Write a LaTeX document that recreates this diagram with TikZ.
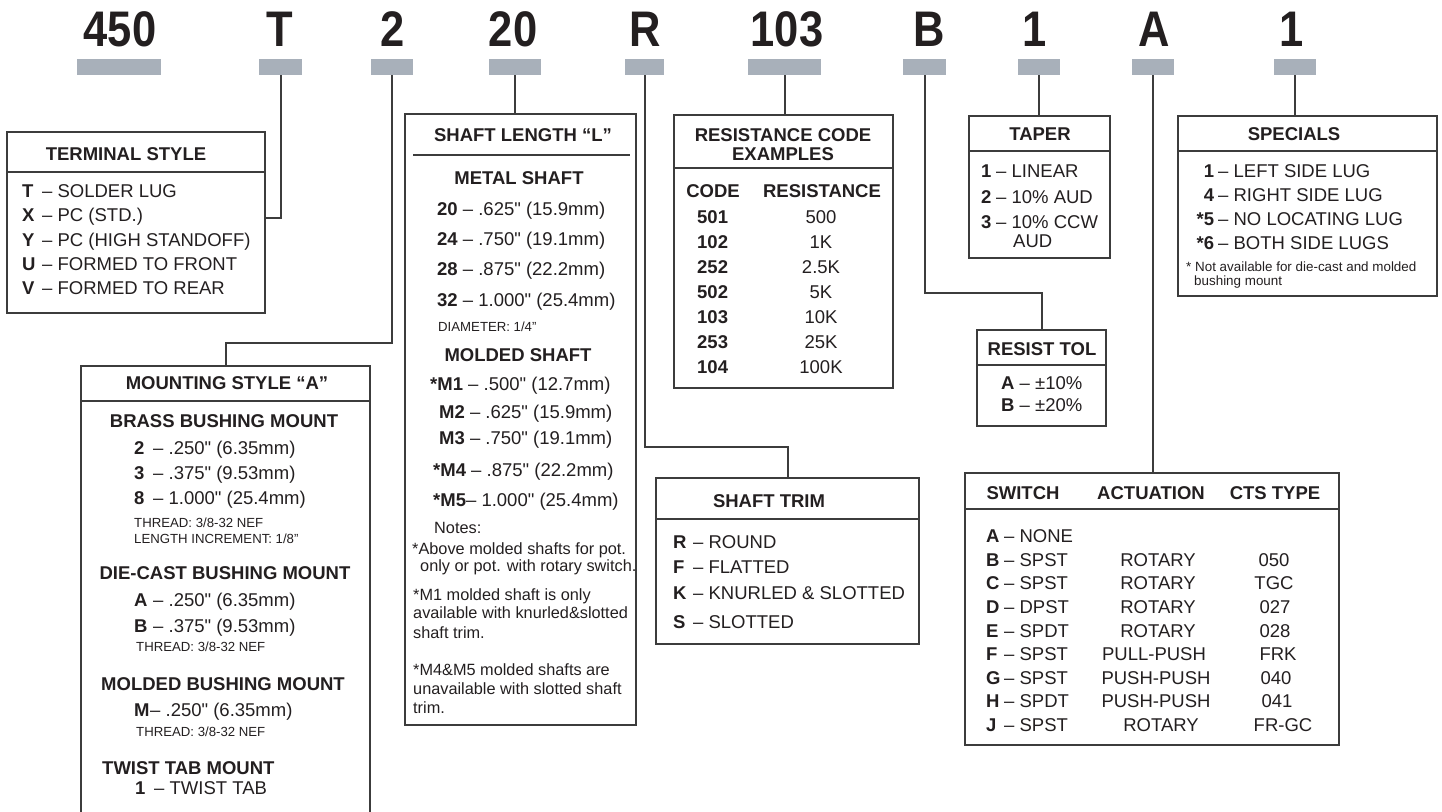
\documentclass[tikz,border=0pt]{standalone}
\usepackage{fontspec}
\newfontfamily\arial{Liberation Sans}
\newfontfamily\codefont{Liberation Sans}[FakeStretch=0.87]
\definecolor{ink}{HTML}{231F20}
\definecolor{rule}{HTML}{3C3C3C}
\definecolor{slot}{HTML}{A8B0BA}
\newcommand\itemfont{\arial\fontsize{18.5}{22}\selectfont}
\newcommand\headfont{\arial\bfseries\fontsize{18.5}{22}\selectfont}
\newcommand\smallfont{\arial\fontsize{13.2}{16}\selectfont}
\newcommand\notefont{\arial\fontsize{16.3}{19}\selectfont}
\newcommand\tinyfont{\arial\fontsize{13.4}{16}\selectfont}
\newcommand\keybox[2][19pt]{\makebox[#1][l]{\textbf{#2}}}

\begin{document}
\begin{tikzpicture}[x=1pt, y=1pt,
        slotbar/.style={fill=slot, inner sep=0, minimum height=16pt},
        codetext/.style={font=\codefont\bfseries\fontsize{50}{50}\selectfont, text=ink, inner sep=0, anchor=base},
        box/.style={draw=rule, line width=2.2pt, inner sep=0, outer sep=0, anchor=north west},
        hrule/.style={draw=rule, line width=2.2pt},
        conn/.style={draw=rule, line width=2pt},
        head/.style={font=\headfont, text=ink, inner sep=0, anchor=base},
        item/.style={font=\itemfont, text=ink, inner sep=0, anchor=base west},
        small/.style={font=\smallfont, text=ink, inner sep=0, anchor=base west},
        note/.style={font=\notefont, text=ink, inner sep=0, anchor=base west},
        tiny/.style={font=\tinyfont, text=ink, inner sep=0, anchor=base west}]
    \useasboundingbox (0,0) rectangle (1442,-811);
    \clip (0,0) rectangle (1442,-811);

    \foreach \nm/\txt/\tx/\bx/\bw in {s450/450/120/119/84, sT/T/280/280.5/43, s2/2/393/392/42, s20/20/513/515/52, sR/R/645/644.5/39, s103/103/787/784.5/73, sB/B/929/924.5/43, sTp/1/1035/1039/42, sA/A/1154/1153/42, sSp/1/1292/1295/42} {
        \node[slotbar, minimum width=\bw pt] (\nm) at (\bx,-67) {};
        \node[codetext] (c\nm) at (\tx,-46) {\txt};
    }

    \node[box, minimum width=258pt, minimum height=181pt] (term) at (7,-132) {};
    \node[box, minimum width=289pt, minimum height=470pt] (mount) at (81,-366) {};
    \node[box, minimum width=231pt, minimum height=611pt] (shaft) at (405,-114) {};
    \node[box, minimum width=219pt, minimum height=273pt] (res) at (674,-115) {};
    \node[box, minimum width=263pt, minimum height=166pt] (trim) at (656,-478) {};
    \node[box, minimum width=141pt, minimum height=142pt] (taper) at (969,-116) {};
    \node[box, minimum width=129pt, minimum height=96pt] (tol) at (977,-330) {};
    \node[box, minimum width=259pt, minimum height=180pt] (spec) at (1178,-116) {};
    \node[box, minimum width=374pt, minimum height=272pt] (sw) at (965,-473) {};

    \foreach \b/\h in {term/40, mount/35, res/53, trim/41, taper/35, tol/35, spec/35, sw/36}
        \draw[hrule] ([yshift=-\h pt]\b.north west) -- ([yshift=-\h pt]\b.north east);
    \draw[hrule] ([xshift=8pt, yshift=-41pt]shaft.north west) -- ([xshift=-6pt, yshift=-41pt]shaft.north east);

    \draw[conn] (sT.south) |- ([yshift=5pt]term.east);
    \draw[conn] (s2.south) |- ([yshift=23pt]mount.north) -- (mount.north);
    \draw[conn] (s20.south) -- (s20.south |- shaft.north);
    \draw[conn] (sR.south) |- ([yshift=31pt]trim.north) -- (trim.north);
    \draw[conn] (s103.south) -- (s103.south |- res.north);
    \draw[conn] (sB.south) |- ([yshift=37pt]tol.north) -- (tol.north);
    \draw[conn] (sTp.south) -- (sTp.south |- taper.north);
    \draw[conn] (sA.south) -- (sA.south |- sw.north);
    \draw[conn] (sSp.south) -- (sSp.south |- spec.north);

    \node[head] (term-t) at (126,-160.6) {TERMINAL STYLE};
    \foreach \k/\t [count=\i] in {T/SOLDER LUG, X/PC (STD.), Y/PC (HIGH STANDOFF), U/FORMED TO FRONT, V/FORMED TO REAR}
        \node[item] (term-\i) at (22, {-191-24.25*(\i-1)-6.6}) {\keybox[20pt]{\k}– \t};

    \node[head] (mount-t) at (227,-389.6) {MOUNTING STYLE “A”};
    \node[head] (brass) at (224,-427.6) {BRASS BUSHING MOUNT};
    \foreach \k/\t/\y [count=\i] in {2/.250" (6.35mm)/454.6, 3/.375" (9.53mm)/479.6, 8/1.000" (25.4mm)/504.6}
        \node[item] (brass-\i) at (134,-\y) {\keybox{\k}– \t};
    \node[small] (brass-th) at (134,-527.7) {THREAD: 3/8-32 NEF};
    \node[small] (brass-len) at (134,-543.7) {LENGTH INCREMENT: 1/8”};
    \node[head] (diecast) at (225,-579.6) {DIE-CAST BUSHING MOUNT};
    \node[item] (diecast-1) at (134,-606.6) {\keybox{A}– .250" (6.35mm)};
    \node[item] (diecast-2) at (134,-632.6) {\keybox{B}– .375" (9.53mm)};
    \node[small] (diecast-th) at (136,-651.7) {THREAD: 3/8-32 NEF};
    \node[head] (molded) at (223,-690.6) {MOLDED BUSHING MOUNT};
    \node[item] (molded-1) at (134,-716.6) {\keybox[16pt]{M}– .250" (6.35mm)};
    \node[small] (molded-th) at (136,-736.7) {THREAD: 3/8-32 NEF};
    \node[head, anchor=base west] (twist) at (102,-774.6) {TWIST TAB MOUNT};
    \node[item] (twist-1) at (135,-794.6) {\keybox{1}– TWIST TAB};

    \node[head] (shaft-t) at (523,-141.6) {SHAFT LENGTH “L”};
    \node[head] (metal) at (519,-184.6) {METAL SHAFT};
    \foreach \k/\t/\y [count=\i] in {20/.625" (15.9mm)/215.6, 24/.750" (19.1mm)/245.6, 28/.875" (22.2mm)/275.6, 32/1.000" (25.4mm)/306.6}
        \node[item] (metal-\i) at (437,-\y) {\textbf{\k} – \t};
    \node[small] (metal-dia) at (438,-331.7) {DIAMETER: 1/4”};
    \node[head] (moldsh) at (518,-361.6) {MOLDED SHAFT};
    \foreach \k/\t/\x/\y [count=\i] in {*M1 /.500" (12.7mm)/430/390.6, M2 /.625" (15.9mm)/439/418.6, M3 /.750" (19.1mm)/439/444.6, *M4 /.875" (22.2mm)/433/476.6, *M5/1.000" (25.4mm)/433/506.6}
        \node[item] (moldsh-\i) at (\x,-\y) {\textbf{\k}– \t};
    \node[note] (notes) at (434,-533.7) {Notes:};
    \foreach \t/\x/\y [count=\i] in {*Above molded shafts for pot./412/554.7, only or pot. with rotary switch./420/571.7, *M1 molded shaft is only/413/600.7, available with knurled\&slotted/413/618.7, shaft trim./413/638.7, *M4\&M5 molded shafts are/413/675.7, unavailable with slotted shaft/413/694.7, trim./413/713.7}
        \node[note] (note-\i) at (\x,-\y) {\t};

    \node[head] (res-t1) at (783,-141.6) {RESISTANCE CODE};
    \node[head] (res-t2) at (783,-160.6) {EXAMPLES};
    \node[head] (res-c) at (713,-197.6) {CODE};
    \node[head] (res-r) at (822,-197.6) {RESISTANCE};
    \foreach \c/\r [count=\i] in {501/500, 102/1K, 252/2.5K, 502/5K, 103/10K, 253/25K, 104/100K} {
        \node[item, font=\headfont] (code-\i) at (697, {-217-25*(\i-1)-6.6}) {\c};
        \node[item, anchor=base] (val-\i) at (821, {-217-25*(\i-1)-6.6}) {\r};
    }

    \node[head] (trim-t) at (769,-507.6) {SHAFT TRIM};
    \foreach \k/\t/\y [count=\i] in {R/ROUND/548.6, F/FLATTED/573.6, K/KNURLED \& SLOTTED/599.6, S/SLOTTED/628.6}
        \node[item] (trim-\i) at (673,-\y) {\keybox[20pt]{\k}– \t};

    \node[head] (taper-t) at (1040,-140.6) {TAPER};
    \foreach \k/\t [count=\i] in {1/LINEAR, 2/10\% AUD, 3/10\% CCW}
        \node[item] (taper-\i) at (981, {-171-25.5*(\i-1)-6.6}) {\keybox[15pt]{\k}– \t};
    \node[item] (taper-4) at (1013,-247.6) {AUD};

    \node[head] (tol-t) at (1042,-355.6) {RESIST TOL};
    \node[item] (tol-1) at (1001,-389.6) {\textbf{A} – ±10\%};
    \node[item] (tol-2) at (1001,-411.6) {\textbf{B} – ±20\%};

    \node[head] (spec-t) at (1294,-140.6) {SPECIALS};
    \foreach \k/\t [count=\i] in {1/LEFT SIDE LUG, 4/RIGHT SIDE LUG, *5/NO LOCATING LUG, *6/BOTH SIDE LUGS}
        \node[item] (spec-\i) at (1218, {-171-24*(\i-1)-6.6}) {\llap{\textbf{\k}\hspace{4pt}}– \t};
    \node[tiny] (spec-n1) at (1186,-271.8) {* Not available for die-cast and molded};
    \node[tiny] (spec-n2) at (1194,-285.8) {bushing mount};

    \node[head] (sw-1) at (1023,-499.6) {SWITCH};
    \node[head] (sw-2) at (1151,-499.6) {ACTUATION};
    \node[head] (sw-3) at (1275,-499.6) {CTS TYPE};
    \foreach \k/\s [count=\i] in {A/NONE, B/SPST, C/SPST, D/DPST, E/SPDT, F/SPST, G/SPST, H/SPDT, J/SPST}
        \node[item] (swk-\i) at (986, {-536-23.6*(\i-1)-6.6}) {\keybox[18pt]{\k}– \s};
    \foreach \a/\ax/\c/\cx [count=\i from 2] in {ROTARY/1158/050/1274, ROTARY/1158/TGC/1274, ROTARY/1158/027/1275, ROTARY/1158/028/1275, PULL-PUSH/1154/FRK/1278, PUSH-PUSH/1156/040/1276, PUSH-PUSH/1156/041/1277, ROTARY/1161/FR-GC/1283} {
        \node[item, anchor=base] (swa-\i) at (\ax, {-536-23.6*(\i-1)-6.6}) {\a};
        \node[item, anchor=base] (swc-\i) at (\cx, {-536-23.6*(\i-1)-6.6}) {\c};
    }
\end{tikzpicture}
\end{document}
